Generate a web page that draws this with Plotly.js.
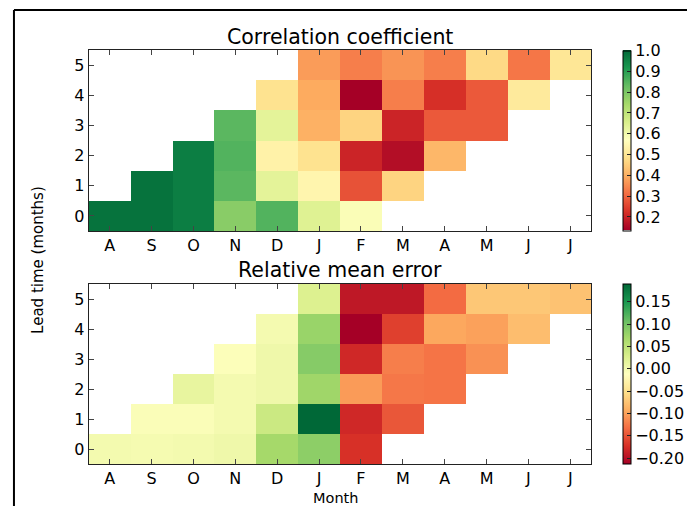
<!DOCTYPE html>
<html>
<head>
<meta charset="utf-8">
<script src="https://cdn.plot.ly/plotly-3.0.1.min.js"></script>
<style>html,body{margin:0;padding:0;background:#fff;}#chart{width:689px;height:506px;}</style>
</head>
<body>
<div id="chart"></div>
<script>
// Categories
const months = ['A','S','O','N','D','J','F','M','A','M','J','J'];
const leadTimes = [0,1,2,3,4,5];

// Correlation coefficient, one array per lead time (months)
const corrLead0 = [0.98, 0.98, 0.96, 0.78, 0.85, 0.64, 0.58, null, null, null, null, null];
const corrLead1 = [null, 0.98, 0.96, 0.84, 0.63, 0.54, 0.27, 0.46, null, null, null, null];
const corrLead2 = [null, null, 0.96, 0.85, 0.53, 0.49, 0.20, 0.16, 0.41, null, null, null];
const corrLead3 = [null, null, null, 0.84, 0.63, 0.40, 0.46, 0.20, 0.28, 0.28, null, null];
const corrLead4 = [null, null, null, null, 0.49, 0.39, 0.135, 0.33, 0.22, 0.28, 0.51, null];
const corrLead5 = [null, null, null, null, null, 0.37, 0.33, 0.36, 0.33, 0.47, 0.32, 0.50];

// Relative mean error, one array per lead time (months)
const rmeLead0 = [0.001, -0.001, 0.001, 0.005, 0.069, 0.085, -0.173, null, null, null, null, null];
const rmeLead1 = [null, -0.006, -0.006, 0.000, 0.040, 0.190, -0.179, -0.147, null, null, null, null];
const rmeLead2 = [null, null, 0.013, 0.000, 0.005, 0.073, -0.104, -0.126, -0.128, null, null, null];
const rmeLead3 = [null, null, null, -0.008, 0.005, 0.089, -0.179, -0.122, -0.128, -0.110, null, null];
const rmeLead4 = [null, null, null, null, 0.000, 0.077, -0.213, -0.162, -0.096, -0.100, -0.080, null];
const rmeLead5 = [null, null, null, null, null, 0.025, -0.193, -0.193, -0.134, -0.072, -0.072, -0.076];

const corrTicks = [0.2,0.3,0.4,0.5,0.6,0.7,0.8,0.9,1.0];
const rmeTicks = [-0.20,-0.15,-0.10,-0.05,0.00,0.05,0.10,0.15];

const RdYlGn = [
  [0.0,'#a50026'],[0.1,'#d73027'],[0.2,'#f46d43'],[0.3,'#fdae61'],[0.4,'#fee08b'],
  [0.5,'#ffffbf'],[0.6,'#d9ef8b'],[0.7,'#a6d96a'],[0.8,'#66bd63'],[0.9,'#1a9850'],[1.0,'#006837']
];

const W = 689, H = 506;
const px = v => v / W;
const py = v => 1 - v / H;
const FONT = 'DejaVu Sans, sans-serif';
const xIdx = months.map((m,i)=>i);

const cbCommon = {
  thickness: 8, thicknessmode: 'pixels', lenmode: 'pixels', len: 180,
  xanchor: 'left', x: px(625), xpad: 0, ypad: 0, yanchor: 'middle',
  outlinecolor: '#000', outlinewidth: 1, ticks: 'inside', ticklen: 4, tickcolor: '#222',
  tickfont: {family: FONT, size: 16, color: '#000'}
};

const traces = [
  {
    type: 'heatmap', x: xIdx, y: leadTimes,
    z: [corrLead0, corrLead1, corrLead2, corrLead3, corrLead4, corrLead5],
    colorscale: RdYlGn, zmin: 0.135, zmax: 1.0, xaxis: 'x', yaxis: 'y',
    hoverongaps: false,
    colorbar: Object.assign({}, cbCommon, {y: py(140.5), tickvals: corrTicks, tickformat: '.1f'})
  },
  {
    type: 'heatmap', x: xIdx, y: leadTimes,
    z: [rmeLead0, rmeLead1, rmeLead2, rmeLead3, rmeLead4, rmeLead5],
    colorscale: RdYlGn, zmin: -0.213, zmax: 0.19, xaxis: 'x2', yaxis: 'y2',
    hoverongaps: false,
    colorbar: Object.assign({}, cbCommon, {y: py(374), tickvals: rmeTicks, tickformat: '.2f'})
  }
];

const axX = {
  tickmode: 'array', tickvals: xIdx, ticktext: months, range: [-0.5, 11.5],
  ticks: 'inside', ticklen: 5, tickcolor: '#444', showline: true, linecolor: '#222', linewidth: 1,
  mirror: 'ticks', showgrid: false, zeroline: false, fixedrange: true,
  tickfont: {family: FONT, size: 16, color: '#000'}
};
const axY = {
  tickmode: 'array', tickvals: leadTimes, range: [-0.5, 5.5],
  ticks: 'inside', ticklen: 5, tickcolor: '#444', showline: true, linecolor: '#222', linewidth: 1,
  mirror: 'ticks', showgrid: false, zeroline: false, fixedrange: true,
  tickfont: {family: FONT, size: 16, color: '#000'}
};

const layout = {
  width: W, height: H,
  margin: {l: 0, r: 0, t: 0, b: 0},
  paper_bgcolor: '#fff', plot_bgcolor: '#fff',
  showlegend: false,
  font: {family: FONT, color: '#000'},
  xaxis: Object.assign({}, axX, {domain: [px(89), px(593)], anchor: 'y'}),
  yaxis: Object.assign({}, axY, {domain: [py(231), py(50)], anchor: 'x'}),
  xaxis2: Object.assign({}, axX, {domain: [px(89), px(593)], anchor: 'y2'}),
  yaxis2: Object.assign({}, axY, {domain: [py(464), py(284)], anchor: 'x2'}),
  annotations: [
    {text: 'Correlation coefficient', xref: 'paper', yref: 'paper', x: px(341), y: py(37),
     xanchor: 'center', yanchor: 'middle', showarrow: false, font: {family: FONT, size: 20.5, color: '#000'}},
    {text: 'Relative mean error', xref: 'paper', yref: 'paper', x: px(341), y: py(270),
     xanchor: 'center', yanchor: 'middle', showarrow: false, font: {family: FONT, size: 20.5, color: '#000'}},
    {text: 'Month', xref: 'paper', yref: 'paper', x: px(336), y: py(497.5),
     xanchor: 'center', yanchor: 'middle', showarrow: false, font: {family: FONT, size: 14.5, color: '#000'}},
    {text: 'Lead time (months)', xref: 'paper', yref: 'paper', x: px(38), y: py(260), textangle: -90,
     xanchor: 'center', yanchor: 'middle', showarrow: false, font: {family: FONT, size: 15, color: '#000'}}
  ],
  shapes: [
    {type: 'line', xref: 'paper', yref: 'paper', x0: px(14), x1: 1, y0: py(10), y1: py(10), line: {color: '#000', width: 2}},
    {type: 'line', xref: 'paper', yref: 'paper', x0: px(14), x1: px(14), y0: py(10), y1: 0, line: {color: '#000', width: 2}}
  ]
};

Plotly.newPlot('chart', traces, layout, {displayModeBar: false, staticPlot: true});
</script>
</body>
</html>
